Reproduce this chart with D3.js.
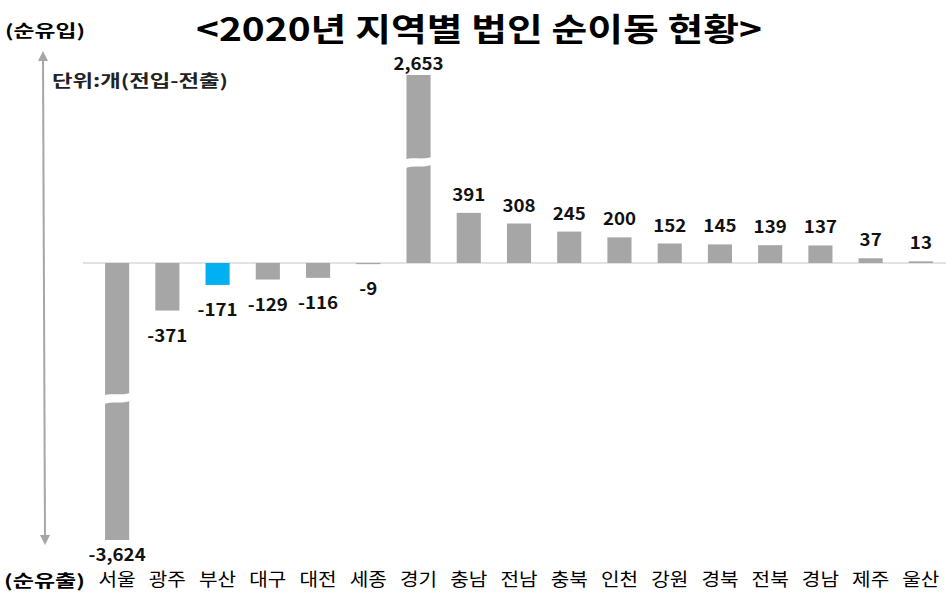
<!DOCTYPE html>
<html>
<head>
<meta charset="utf-8">
<script src="https://cdn.jsdelivr.net/npm/d3@7"></script>
<style>
  body { margin: 0; background: #fff; }
  text { font-family: "Noto Sans CJK KR", sans-serif; }
</style>
</head>
<body>
<div id="chart"></div>
<script>
const regions = ["서울", "광주", "부산", "대구", "대전", "세종", "경기", "충남", "전남", "충북", "인천", "강원", "경북", "전북", "경남", "제주", "울산"];
const netMoves = [-3624, -371, -171, -129, -116, -9, 2653, 391, 308, 245, 200, 152, 145, 139, 137, 37, 13];
const highlight = ["부산"];

const width = 946;
const height = 596;
const baseY = 263;
const k = 0.1282; // px per company in the unbroken part

// axis with a break: values past the break are squeezed
const breakLow = -1060, breakHigh = 780;
const minV = d3.min(netMoves), maxV = d3.max(netMoves);

const x = d3.scaleBand()
    .domain(regions)
    .range([92, 946])
    .paddingInner(0.52)
    .paddingOuter(0.26);

const y = d3.scaleLinear()
    .domain([minV, breakLow, 0, breakHigh, maxV])
    .range([540, baseY - breakLow * k, baseY, baseY - breakHigh * k, 75]);

const data = regions.map((r, i) => ({ region: r, value: netMoves[i] }));

const svg = d3.select("#chart")
    .append("svg")
    .attr("width", width)
    .attr("height", height);

// the original uses a wider font, so widen the text a bit
function widen(sel, f) {
    sel.each(function() {
        this.setAttribute("textLength", this.getComputedTextLength() * f);
        this.setAttribute("lengthAdjust", "spacingAndGlyphs");
    });
}

// title
svg.append("text")
    .attr("x", 479)
    .attr("y", 41)
    .attr("text-anchor", "middle")
    .attr("font-size", "32px")
    .attr("font-weight", "bold")
    .attr("fill", "#000")
    .attr("textLength", 566)
    .attr("lengthAdjust", "spacingAndGlyphs")
    .text("<2020년 지역별 법인 순이동 현황>");

svg.append("text")
    .attr("x", 5)
    .attr("y", 37)
    .attr("font-size", "17px")
    .attr("font-weight", "bold")
    .attr("textLength", 80)
    .attr("lengthAdjust", "spacingAndGlyphs")
    .text("(순유입)");

svg.append("text")
    .attr("x", 4)
    .attr("y", 587)
    .attr("font-size", "17px")
    .attr("font-weight", "bold")
    .attr("textLength", 81)
    .attr("lengthAdjust", "spacingAndGlyphs")
    .text("(순유출)");

svg.append("text")
    .attr("x", 52)
    .attr("y", 87)
    .attr("font-size", "17px")
    .attr("font-weight", "bold")
    .attr("fill", "#222")
    .attr("textLength", 176)
    .attr("lengthAdjust", "spacingAndGlyphs")
    .text("단위:개(전입-전출)");

// double arrow on the left
const defs = svg.append("defs");
defs.append("marker")
    .attr("id", "arrow")
    .attr("viewBox", "0 0 10 10")
    .attr("refX", 5)
    .attr("refY", 5)
    .attr("markerWidth", 5)
    .attr("markerHeight", 5)
    .attr("orient", "auto-start-reverse")
    .append("path")
    .attr("d", "M0,0L10,5L0,10Z")
    .attr("fill", "#a6a6a6");

svg.append("line")
    .attr("x1", 43).attr("y1", 56)
    .attr("x2", 45).attr("y2", 540)
    .attr("stroke", "#a6a6a6")
    .attr("stroke-width", 2)
    .attr("marker-start", "url(#arrow)")
    .attr("marker-end", "url(#arrow)");

// zero line
svg.append("line")
    .attr("x1", 83)
    .attr("x2", 946)
    .attr("y1", y(0))
    .attr("y2", y(0))
    .attr("stroke", "#d9d9d9")
    .attr("stroke-width", 1.5);

// bars
svg.selectAll(".bar")
    .data(data)
    .join("rect")
    .attr("class", "bar")
    .attr("x", d => x(d.region))
    .attr("width", x.bandwidth())
    .attr("y", d => Math.min(y(d.value), y(0)))
    .attr("height", d => Math.max(1, Math.abs(y(d.value) - y(0))))
    .attr("fill", d => highlight.includes(d.region) ? "#00b0f0" : "#a6a6a6");

// break marks on the bars that go past the break
const breaks = data.filter(d => d.value > breakHigh || d.value < breakLow)
    .map(d => ({ region: d.region, cy: y(d.value > 0 ? breakHigh : breakLow) }));

svg.selectAll(".break")
    .data(breaks)
    .join("path")
    .attr("class", "break")
    .attr("d", d => {
        const x0 = x(d.region) - 3, x1 = x(d.region) + x.bandwidth() + 3;
        const w = x1 - x0, top = d.cy - 5, bot = d.cy + 4;
        return `M${x0},${top + 2}C${x0 + w * 0.35},${top - 2} ${x0 + w * 0.65},${top + 3} ${x1},${top - 2}` +
               `L${x1},${bot - 3}C${x0 + w * 0.65},${bot + 2} ${x0 + w * 0.35},${bot - 3} ${x0},${bot + 2}Z`;
    })
    .attr("fill", "#fff");

// value labels
const fmt = d3.formatLocale({ decimal: ".", thousands: ",", grouping: [3], currency: ["", ""], minus: "-" }).format(",");
svg.selectAll(".val")
    .data(data)
    .join("text")
    .attr("class", "val")
    .attr("x", d => x(d.region) + x.bandwidth() / 2)
    .attr("y", d => d.value >= 0 ? Math.max(y(d.value) - 12, 70) : Math.min(y(d.value) + 31, 561))
    .attr("text-anchor", "middle")
    .attr("font-size", "17px")
    .attr("font-weight", "bold")
    .attr("fill", "#111")
    .text(d => fmt(d.value))
    .call(widen, 1.1);

// category labels
svg.selectAll(".cat")
    .data(regions)
    .join("text")
    .attr("class", "cat")
    .attr("x", d => x(d) + x.bandwidth() / 2)
    .attr("y", 586)
    .attr("text-anchor", "middle")
    .attr("font-size", "18px")
    .attr("fill", "#000")
    .text(d => d)
    .call(widen, 1.12);
</script>
</body>
</html>
